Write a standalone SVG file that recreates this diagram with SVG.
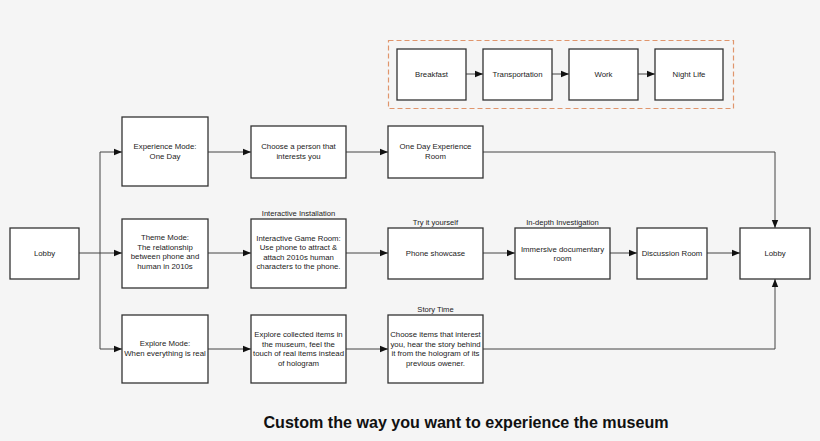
<svg xmlns="http://www.w3.org/2000/svg" width="820" height="441" viewBox="0 0 820 441">
<defs>
<marker id="ah" viewBox="0 0 10 10" refX="10" refY="5" markerWidth="8" markerHeight="8" markerUnits="userSpaceOnUse" orient="auto">
<path d="M0,1 L10,5 L0,9 z" fill="#111"/>
</marker>
<style>
.box{fill:#fff;stroke:#333;stroke-width:1.3}
.t{font-family:"Liberation Sans",Arial,sans-serif;font-size:7.8px;fill:#222;text-anchor:middle}
.lbl{font-family:"Liberation Sans",Arial,sans-serif;font-size:7.6px;fill:#222;text-anchor:middle}
.c{fill:none;stroke:#444;stroke-width:1}
.ar{marker-end:url(#ah)}
</style>
</defs>
<rect width="820" height="441" fill="#f5f5f5"/>
<rect x="388.5" y="40.5" width="345" height="68" fill="none" stroke="#e0956c" stroke-width="1.2" stroke-dasharray="5,3"/>
<g id="connectors">
<path class="c ar" d="M466,74 H483"/>
<path class="c ar" d="M552,74 H569"/>
<path class="c ar" d="M638,74 H655"/>
<path class="c" d="M79,253 H100"/>
<path class="c" d="M100,152 V349"/>
<path class="c ar" d="M100,152 H122"/>
<path class="c ar" d="M100,253 H122"/>
<path class="c ar" d="M100,349 H122"/>
<path class="c ar" d="M208,152 H251"/>
<path class="c ar" d="M346,152 H388"/>
<path class="c ar" d="M483,152 H775 V228"/>
<path class="c ar" d="M208,253 H251"/>
<path class="c ar" d="M346,253 H388"/>
<path class="c ar" d="M483,253 H515"/>
<path class="c ar" d="M610,253 H637"/>
<path class="c ar" d="M707,253 H740"/>
<path class="c ar" d="M208,349 H251"/>
<path class="c ar" d="M346,349 H388"/>
<path class="c ar" d="M483,349 H775 V279"/>
</g>
<g id="breakfast"><rect class="box" x="397" y="49" width="69" height="51"/><text class="t" x="431.5" y="77">Breakfast</text></g>
<g id="transportation"><rect class="box" x="483" y="49" width="69" height="51"/><text class="t" x="517.5" y="77">Transportation</text></g>
<g id="work"><rect class="box" x="569" y="49" width="69" height="51"/><text class="t" x="603.5" y="77">Work</text></g>
<g id="nightlife"><rect class="box" x="655" y="49" width="68" height="51"/><text class="t" x="689" y="77">Night Life</text></g>
<g id="lobby1"><rect class="box" x="10" y="228" width="69" height="51"/><text class="t" x="44.5" y="256">Lobby</text></g>
<g id="experience"><rect class="box" x="122" y="117" width="86" height="69"/><text class="t" x="165" y="149">Experience Mode:</text><text class="t" x="165" y="158.5">One Day</text></g>
<g id="theme"><rect class="box" x="122" y="219" width="86" height="69"/><text class="t" x="165" y="240">Theme Mode:</text><text class="t" x="165" y="249.5">The relationship</text><text class="t" x="165" y="259">between phone and</text><text class="t" x="165" y="268.5">human in 2010s</text></g>
<g id="explore"><rect class="box" x="122" y="315" width="86" height="68"/><text class="t" x="165" y="346">Explore Mode:</text><text class="t" x="165" y="355.5">When everything is real</text></g>
<g id="choose"><rect class="box" x="251" y="126" width="95" height="52"/><text class="t" x="298.5" y="149">Choose a person that</text><text class="t" x="298.5" y="158.5">interests you</text></g>
<g id="game"><text class="lbl" x="298.5" y="216">Interactive Installation</text><rect class="box" x="251" y="219" width="95" height="69"/><text class="t" x="298.5" y="240.5">Interactive Game Room:</text><text class="t" x="298.5" y="250">Use phone to attract &amp;</text><text class="t" x="298.5" y="259.5">attach 2010s human</text><text class="t" x="298.5" y="269">characters to the phone.</text></g>
<g id="collected"><rect class="box" x="251" y="315" width="95" height="68"/><text class="t" x="298.5" y="337">Explore collected items in</text><text class="t" x="298.5" y="346.5">the museum, feel the</text><text class="t" x="298.5" y="356">touch of real items instead</text><text class="t" x="298.5" y="365.5">of hologram</text></g>
<g id="oneday"><rect class="box" x="388" y="126" width="95" height="52"/><text class="t" x="435.5" y="149">One Day Experience</text><text class="t" x="435.5" y="158.5">Room</text></g>
<g id="phone"><text class="lbl" x="435.5" y="224.5">Try it yourself</text><rect class="box" x="388" y="228" width="95" height="51"/><text class="t" x="435.5" y="256">Phone showcase</text></g>
<g id="story"><text class="lbl" x="435.5" y="312">Story Time</text><rect class="box" x="388" y="315" width="95" height="68"/><text class="t" x="435.5" y="337">Choose items that interest</text><text class="t" x="435.5" y="346.5">you, hear the story behind</text><text class="t" x="435.5" y="356">it from the hologram of its</text><text class="t" x="435.5" y="365.5">previous owener.</text></g>
<g id="immersive"><text class="lbl" x="562.5" y="224.5">In-depth Investigation</text><rect class="box" x="515" y="228" width="95" height="51"/><text class="t" x="562.5" y="251.5">Immersive documentary</text><text class="t" x="562.5" y="261">room</text></g>
<g id="discussion"><rect class="box" x="637" y="228" width="70" height="51"/><text class="t" x="672" y="256">Discussion Room</text></g>
<g id="lobby2"><rect class="box" x="740" y="228" width="70" height="51"/><text class="t" x="775" y="256">Lobby</text></g>
<text x="466" y="428" font-family="Liberation Sans,Arial,sans-serif" font-size="16.1" font-weight="bold" fill="#111" text-anchor="middle">Custom the way you want to experience the museum</text>
</svg>
